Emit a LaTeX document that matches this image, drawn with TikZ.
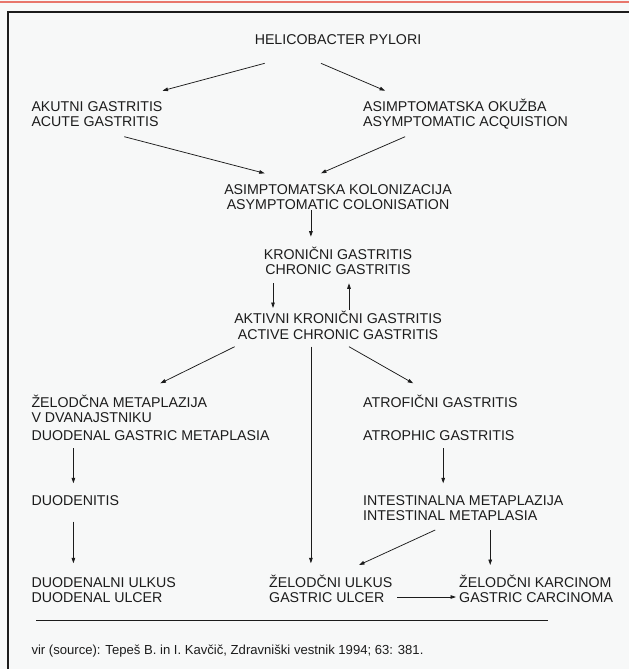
\documentclass[tikz,border=0pt]{standalone}
\usepackage{fontspec}
\setmainfont{Liberation Sans}
\usetikzlibrary{arrows.meta}
\definecolor{bgc}{RGB}{247,248,248}
\definecolor{redline}{RGB}{232,118,108}
\definecolor{ink}{RGB}{28,28,28}
\newcommand\tp{\rule{0pt}{14pt}}
\begin{document}
\begin{tikzpicture}[x=1pt,y=-1pt,
  lbl/.style={inner sep=0pt, align=left, text=ink, font=\fontsize{14.2}{15.5}\selectfont},
  clbl/.style={lbl, align=center, anchor=north},
  llbl/.style={lbl, anchor=north west},
  arr/.style={draw=ink, line width=0.75pt, -{Triangle[length=5.5pt,width=3.6pt]}},
  plain/.style={draw=ink, line width=0.8pt}]
\useasboundingbox (0,0) rectangle (629,669);
\fill[bgc] (0,0) rectangle (629,669);
% top rule and frame
\draw[redline, line width=1.8pt] (0,2) -- (629,2);
\draw[ink, line width=1.5pt] (8,669) -- (8,12) -- (629,12);

% nodes
\node[clbl] (hp)   at (338,30)    {\tp HELICOBACTER PYLORI};
\node[llbl] (ak)   at (31.3,97)   {\tp AKUTNI GASTRITIS\\ACUTE GASTRITIS};
\node[llbl] (ao)   at (363,97)    {\tp ASIMPTOMATSKA OKUŽBA\\ASYMPTOMATIC ACQUISTION};
\node[clbl] (kol)  at (338,180)   {\tp ASIMPTOMATSKA KOLONIZACIJA\\ASYMPTOMATIC COLONISATION};
\node[clbl] (kron) at (338,245)   {\tp KRONIČNI GASTRITIS\\CHRONIC GASTRITIS};
\node[clbl] (akt)  at (338,309.5) {\tp AKTIVNI KRONIČNI GASTRITIS\\ACTIVE CHRONIC GASTRITIS};
\node[llbl] (zm)   at (31.3,393)  {\tp ŽELODČNA METAPLAZIJA\\V DVANAJSTNIKU\\[2pt]DUODENAL GASTRIC METAPLASIA};
\node[llbl] (atr)  at (363,393)   {\tp ATROFIČNI GASTRITIS\\[17.5pt]ATROPHIC GASTRITIS};
\node[llbl] (duo)  at (31.3,491)  {\tp DUODENITIS};
\node[llbl] (im)   at (363,491)   {\tp INTESTINALNA METAPLAZIJA\\INTESTINAL METAPLASIA};
\node[llbl] (du)   at (31.3,573)  {\tp DUODENALNI ULKUS\\DUODENAL ULCER};
\node[llbl] (zu)   at (269,573)   {\tp ŽELODČNI ULKUS\\GASTRIC ULCER};
\node[llbl] (zk)   at (459,573)   {\tp ŽELODČNI KARCINOM\\GASTRIC CARCINOMA};
\node[lbl, anchor=base west, font=\fontsize{13.1}{15}\selectfont] (src) at (31.3,654.5)
  {vir (source): Tepeš B. in I. Kavčič, Zdravniški vestnik 1994; 63: 381.};

% rule above the source
\draw[plain] ([shift={(4.8,-34.5)}]src.base west) -- ([shift={(516.2,-34.5)}]src.base west);

% connectors
\draw[arr] ([shift={(-73.3,33.3)}]hp.north)   -- ([shift={(131.2,-6.3)}]ak.north west);
\draw[arr] ([shift={(-17.1,33.3)}]hp.north)   -- ([shift={(22.1,-6.3)}]ao.north west);
\draw[arr] ([shift={(93,39.7)}]ak.north west) -- ([shift={(-73.3,-6.7)}]kol.north);
\draw[arr] ([shift={(42.1,39.7)}]ao.north west) -- ([shift={(-17.1,-6.7)}]kol.north);
\draw[arr] ([shift={(-27.1,30)}]kol.north)    -- ([shift={(-27.1,-8.3)}]kron.north);
\draw[arr] ([shift={(-65,38.3)}]kron.north)   -- ([shift={(-65,-1.5)}]akt.north);
\draw[arr] ([shift={(11,0.5)}]akt.north)      -- ([shift={(11,38.3)}]kron.north);
\draw[arr] ([shift={(-103.3,37.2)}]akt.north) -- ([shift={(129.1,-9.7)}]zm.north west);
\draw[arr] ([shift={(11,37.2)}]akt.north)     -- ([shift={(50.2,-9.7)}]atr.north west);
\draw[arr] ([shift={(-27.1,37.2)}]akt.north)  -- ([shift={(41.9,-9.7)}]zu.north west);
\draw[arr] ([shift={(42.1,55.3)}]zm.north west) -- ([shift={(42.1,-7.7)}]duo.north west);
\draw[arr] ([shift={(80.2,55.3)}]atr.north west) -- ([shift={(80.2,-7.7)}]im.north west);
\draw[arr] ([shift={(42.1,30.7)}]duo.north west) -- ([shift={(42.1,-9.7)}]du.north west);
\draw[arr] ([shift={(72.2,39)}]im.north west)  -- ([shift={(90,-8)}]zu.north west);
\draw[arr] ([shift={(127.2,39)}]im.north west) -- ([shift={(31.2,-8)}]zk.north west);
\draw[arr] ([shift={(128,24)}]zu.north west)   -- ([shift={(-3,24)}]zk.north west);
\end{tikzpicture}
\end{document}
